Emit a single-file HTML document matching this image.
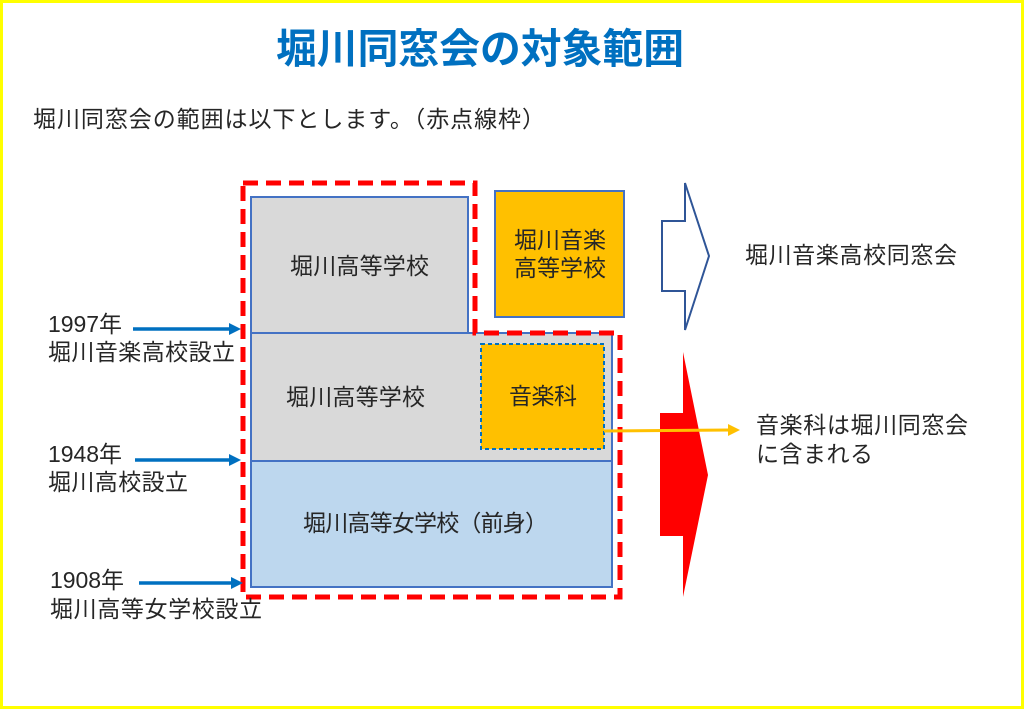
<!DOCTYPE html>
<html><head><meta charset="utf-8"><style>
html,body{margin:0;padding:0;background:#fff}
body{width:1024px;height:709px;position:relative;overflow:hidden;font-family:"Liberation Sans","Noto Sans CJK JP",sans-serif}
svg{position:absolute;left:0;top:0}
svg text{font-family:"Liberation Sans","Noto Sans CJK JP",sans-serif;fill:#262626}
</style></head><body>
<svg width="1024" height="709" viewBox="0 0 1024 709">
<rect x="1.5" y="1.5" width="1021" height="706" fill="#fff" stroke="#ffff00" stroke-width="3"/>
<text x="276" y="63" font-size="41" font-weight="bold" textLength="408" lengthAdjust="spacingAndGlyphs" style="fill:#0070c0">堀川同窓会の対象範囲</text>
<text x="33" y="127" font-size="23" textLength="512" lengthAdjust="spacing">堀川同窓会の範囲は以下とします。（赤点線枠）</text>

<rect x="251" y="197" width="217" height="136" fill="#d9d9d9" stroke="#4472c4" stroke-width="2"/>
<rect x="251" y="333" width="361" height="128" fill="#d9d9d9" stroke="#4472c4" stroke-width="2"/>
<rect x="251" y="461" width="361" height="126" fill="#bdd7ee" stroke="#4472c4" stroke-width="2"/>
<rect x="495" y="191" width="129" height="126" fill="#ffc000" stroke="#4472c4" stroke-width="2"/>
<rect x="481" y="344" width="123" height="105" fill="#ffc000" stroke="#0070c0" stroke-width="2" stroke-dasharray="4,3"/>

<path d="M243,183 H475 V333 H620 V597 H243 Z" fill="none" stroke="#ff0000" stroke-width="5" stroke-dasharray="15,8"/>

<text x="290" y="274" font-size="23" textLength="139" lengthAdjust="spacing">堀川高等学校</text>
<text x="286" y="405" font-size="23" textLength="139" lengthAdjust="spacing">堀川高等学校</text>
<text x="509" y="404" font-size="23" textLength="68" lengthAdjust="spacing">音楽科</text>
<text x="303" y="531" font-size="23" textLength="245" lengthAdjust="spacing">堀川高等女学校（前身）</text>
<text x="514" y="248" font-size="23" textLength="92" lengthAdjust="spacing">堀川音楽</text>
<text x="514" y="276" font-size="23" textLength="92" lengthAdjust="spacing">高等学校</text>

<path d="M662,221 H685 V183 L709,256 L685,330 V291 H662 Z" fill="#fff" stroke="#2f5597" stroke-width="2"/>
<path d="M660,413 H683 V352 L708,475 L683,597 V536 H660 Z" fill="#ff0000"/>

<line x1="604" y1="431" x2="730" y2="430" stroke="#ffc000" stroke-width="3"/>
<path d="M740,430 L728,424 L728,436 Z" fill="#ffc000"/>

<text x="745" y="263" font-size="23" textLength="212" lengthAdjust="spacing">堀川音楽高校同窓会</text>
<text x="756" y="433" font-size="23" textLength="212" lengthAdjust="spacing">音楽科は堀川同窓会</text>
<text x="756" y="462" font-size="23" textLength="117" lengthAdjust="spacing">に含まれる</text>

<text x="48" y="332" font-size="23" textLength="74" lengthAdjust="spacing">1997年</text>
<text x="48" y="360" font-size="23" textLength="187" lengthAdjust="spacing">堀川音楽高校設立</text>
<text x="48" y="462" font-size="23" textLength="74" lengthAdjust="spacing">1948年</text>
<text x="48" y="490" font-size="23" textLength="140" lengthAdjust="spacing">堀川高校設立</text>
<text x="50" y="588" font-size="23" textLength="74" lengthAdjust="spacing">1908年</text>
<text x="50" y="617" font-size="23" textLength="212" lengthAdjust="spacing">堀川高等女学校設立</text>

<g stroke="#0070c0" stroke-width="3.5" fill="#0070c0">
<line x1="133" y1="329" x2="230" y2="329"/><path d="M241,329 L229,323 L229,335 Z" stroke="none"/>
<line x1="135" y1="460" x2="230" y2="460"/><path d="M241,460 L229,454 L229,466 Z" stroke="none"/>
<line x1="139" y1="583" x2="232" y2="583"/><path d="M243,583 L231,577 L231,589 Z" stroke="none"/>
</g>
</svg>
</body></html>
